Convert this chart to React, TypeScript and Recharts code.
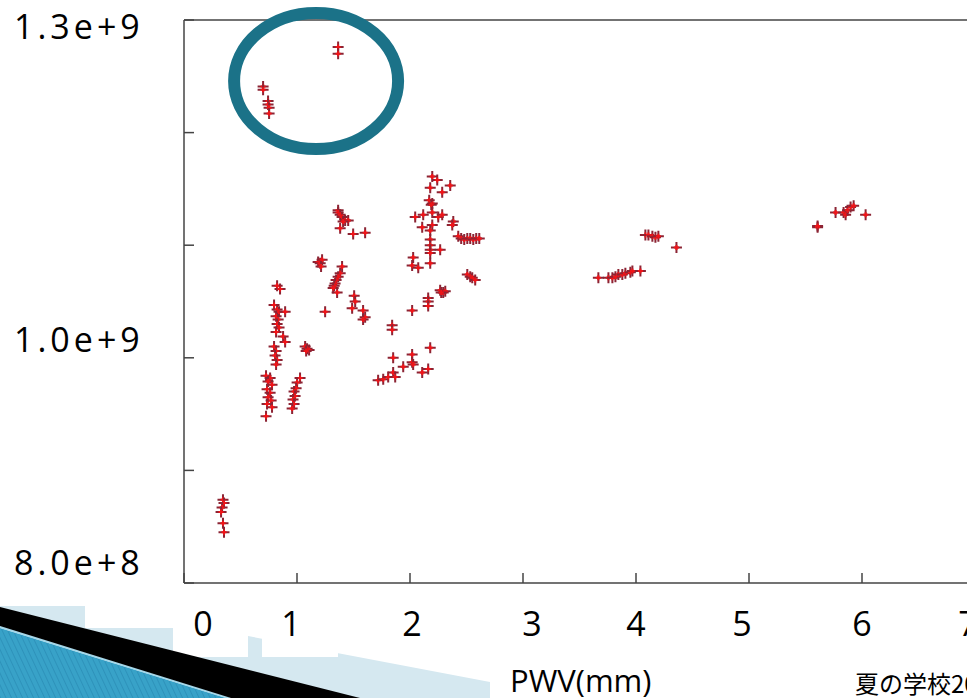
import React from 'react'
import { ScatterChart, Scatter, XAxis, YAxis, ReferenceDot } from 'recharts'

// PWV (mm) against counts (in units of 1e9), one array per group of nights
const groupLowPwv: [number, number][] = [
  [0.345, 0.874], [0.354, 0.871], [0.337, 0.867], [0.328, 0.863], [0.345, 0.853], [0.354, 0.845],
]

const groupOutliers: [number, number][] = [
  [0.7, 1.241], [0.7, 1.238], [0.744, 1.228], [0.744, 1.225], [0.753, 1.222], [0.753, 1.217],
  [1.364, 1.276], [1.364, 1.27],
]

const groupNear1: [number, number][] = [
  [0.824, 1.064], [0.85, 1.061], [0.797, 1.047], [0.824, 1.043], [0.841, 1.041], [0.815, 1.037],
  [0.833, 1.034], [0.824, 1.03], [0.841, 1.027], [0.815, 1.023], [0.895, 1.041], [0.877, 1.019],
  [0.895, 1.014], [0.797, 1.01], [0.815, 1.006], [0.806, 1.002], [0.824, 0.998], [0.815, 0.994],
  [0.726, 0.984], [0.762, 0.982], [0.744, 0.979], [0.779, 0.976], [0.735, 0.972], [0.762, 0.969],
  [0.744, 0.965], [0.771, 0.962], [0.735, 0.959], [0.779, 0.956], [0.726, 0.948],
  [1.027, 0.982], [1.001, 0.978], [0.992, 0.973], [0.974, 0.97], [0.983, 0.966], [0.965, 0.963],
  [0.974, 0.959], [0.957, 0.955],
  [1.072, 1.01], [1.089, 1.008], [1.107, 1.007], [1.081, 1.006],
]

const groupNear15: [number, number][] = [
  [1.364, 1.131], [1.364, 1.129], [1.382, 1.127], [1.399, 1.125], [1.426, 1.122], [1.453, 1.122],
  [1.408, 1.121], [1.382, 1.115], [1.497, 1.11], [1.603, 1.111],
  [1.187, 1.085], [1.205, 1.084], [1.222, 1.087], [1.213, 1.081], [1.399, 1.081], [1.382, 1.075],
  [1.364, 1.072], [1.346, 1.069], [1.337, 1.066], [1.329, 1.064], [1.32, 1.062], [1.355, 1.058],
  [1.249, 1.041], [1.506, 1.055], [1.515, 1.05], [1.488, 1.044], [1.585, 1.042], [1.603, 1.036],
  [1.585, 1.034],
]

const groupNear2: [number, number][] = [
  [2.197, 1.161], [2.241, 1.158], [2.179, 1.151], [2.356, 1.153], [2.285, 1.147], [2.17, 1.14],
  [2.197, 1.137], [2.188, 1.136], [2.046, 1.125], [2.117, 1.127], [2.197, 1.129], [2.25, 1.125],
  [2.285, 1.127], [2.108, 1.116], [2.197, 1.118], [2.383, 1.121], [2.374, 1.118],
  [2.179, 1.113], [2.179, 1.105], [2.179, 1.1], [2.179, 1.096], [2.179, 1.093], [2.179, 1.084],
  [2.267, 1.096], [2.028, 1.089], [2.019, 1.082], [2.073, 1.08],
  [2.427, 1.108], [2.453, 1.106], [2.48, 1.105], [2.507, 1.106], [2.533, 1.106], [2.56, 1.105],
  [2.586, 1.106], [2.613, 1.106],
  [2.507, 1.074], [2.533, 1.072], [2.551, 1.071], [2.577, 1.069],
  [2.267, 1.06], [2.294, 1.058], [2.312, 1.059], [2.276, 1.058],
  [2.161, 1.053], [2.161, 1.05], [2.161, 1.046], [2.019, 1.042], [1.842, 1.029], [1.842, 1.025],
  [2.179, 1.009], [1.851, 1.0], [2.019, 1.003], [2.019, 0.996], [1.94, 0.992], [2.028, 0.994],
  [2.161, 0.99], [2.108, 0.987], [1.718, 0.98], [1.763, 0.981], [1.807, 0.983], [1.851, 0.987],
  [1.869, 0.983],
]

const groupNear4: [number, number][] = [
  [3.667, 1.071], [3.756, 1.071], [3.791, 1.071], [3.818, 1.072], [3.844, 1.074], [3.879, 1.074],
  [3.906, 1.075], [3.95, 1.076], [3.968, 1.077], [4.039, 1.077],
  [4.083, 1.109], [4.11, 1.109], [4.145, 1.108], [4.172, 1.107], [4.198, 1.108], [4.358, 1.098],
]

const groupNear6: [number, number][] = [
  [5.607, 1.116], [5.607, 1.117], [5.766, 1.129], [5.837, 1.129], [5.855, 1.127], [5.872, 1.131],
  [5.899, 1.134], [5.926, 1.135], [6.032, 1.127],
]

const xTicks = [0, 1, 2, 3, 4, 5, 6, 7]
const yTicks = [0.8, 0.9, 1.0, 1.1, 1.2, 1.3]
const yTickLabels = ['8.0e+8', '', '1.0e+9', '', '', '1.3e+9']

// highlighted region around the two high outlier groups
const highlight = { pwv: 1.169, value: 1.2458 }

const points = [
  ...groupLowPwv,
  ...groupOutliers,
  ...groupNear1,
  ...groupNear15,
  ...groupNear2,
  ...groupNear4,
  ...groupNear6,
].map(([pwv, value]) => ({ pwv, value }))

const FRAME = '#444'
const TICK_LEN = 10
const labelFont = '"Open Sans", "Noto Sans", sans-serif'

// hand placed text boxes on the slide sit a little off the tick marks
const xLabelNudge: Record<number, number> = { 0: 19, 1: -6, 2: 2, 3: 9, 5: -7, 7: -7 }
const yLabelDy = [-8, 0, -6, 0, 0, 19]

const Cross = (props: any) => {
  const { cx, cy } = props
  if (cx == null || cy == null) return null
  return (
    <g>
      <path d={`M${cx - 5.5},${cy}H${cx + 5.5}M${cx},${cy - 5.5}V${cy + 5.5}`} stroke="#8c2434" strokeWidth={2} />
      <path d={`M${cx - 2.5},${cy}H${cx + 2.5}M${cx},${cy - 2.5}V${cy + 2.5}`} stroke="#f01418" strokeWidth={2} />
    </g>
  )
}

const BottomTick = (props: any) => {
  const { x, y, payload } = props
  const v = payload.value
  return (
    <g>
      <line x1={x} x2={x} y1={y} y2={y - TICK_LEN} stroke={FRAME} strokeWidth={1.5} />
      <text x={x + (xLabelNudge[v] ?? 0)} y={y + 53} textAnchor="middle" fontFamily={labelFont} fontSize={34} fill="#000">
        {v}
      </text>
    </g>
  )
}

const TopTick = (props: any) => {
  const { x, y } = props
  return <line x1={x} x2={x} y1={y} y2={y + TICK_LEN} stroke={FRAME} strokeWidth={1.5} />
}

const LeftTick = (props: any) => {
  const { x, y, index } = props
  return (
    <g>
      <line x1={x} x2={x + TICK_LEN} y1={y} y2={y} stroke={FRAME} strokeWidth={1.5} />
      {yTickLabels[index] && (
        <text x={x - 170} y={y + yLabelDy[index]} textAnchor="start" fontFamily={labelFont} fontSize={34} letterSpacing={4} fill="#000">
          {yTickLabels[index]}
        </text>
      )}
    </g>
  )
}

const RightTick = (props: any) => {
  const { x, y } = props
  return <line x1={x} x2={x - TICK_LEN} y1={y} y2={y} stroke={FRAME} strokeWidth={1.5} />
}

const Ellipse = (props: any) => (
  <ellipse cx={props.cx} cy={props.cy} rx={82} ry={68} fill="none" stroke="#1b7288" strokeWidth={12} />
)

// slide template shapes in the lower left corner
const SlideDecor = () => (
  <svg width={967} height={698} style={{ position: 'absolute', left: 0, top: 0 }}>
    <defs>
      <pattern id="hatch" width={5} height={5} patternUnits="userSpaceOnUse" patternTransform="rotate(-25)">
        <rect width={5} height={5} fill="#38a2c8" />
        <line x1={0} y1={0} x2={0} y2={5} stroke="#2a8db5" strokeWidth={1.5} />
      </pattern>
    </defs>
    <polygon points="0,589 490,682 490,698 0,698" fill="#d5e8f0" />
    <rect x={0} y={560} width={85} height={46} fill="#fff" />
    <rect x={85} y={600} width={88} height={28} fill="#fff" />
    <rect x={173} y={600} width={75} height={57} fill="#fff" />
    <rect x={262} y={600} width={76} height={57} fill="#fff" />
    <polygon points="0,628 226,698 0,698" fill="url(#hatch)" />
    <line x1={0} y1={627} x2={229} y2={698} stroke="#a5d8ea" strokeWidth={2} />
    <polygon points="0,607 360,698 231,698 0,626" fill="#000" />
    <text x={855} y={693} fontFamily='"Noto Sans CJK JP", sans-serif' fontSize={24} fill="#000">
      夏の学校2012
    </text>
  </svg>
)

export default function App() {
  return (
    <div style={{ position: 'fixed', left: 0, top: 0, width: 967, height: 698, overflow: 'hidden', background: '#fff' }}>
      <SlideDecor />
      <div style={{ position: 'absolute', left: 0, top: 0 }}>
        <ScatterChart width={1000} height={698} margin={{ top: 19, right: 24, bottom: 0, left: 0 }}>
          <XAxis
            xAxisId="bottom"
            dataKey="pwv"
            type="number"
            domain={[0, 7]}
            ticks={xTicks}
            interval={0}
            height={115}
            tickSize={0}
            tickMargin={0}
            tickLine={false}
            axisLine={{ stroke: FRAME, strokeWidth: 1.5 }}
            tick={<BottomTick />}
            label={{
              content: (p: any) => (
                <text x={p.viewBox.x + 326} y={p.viewBox.y + 109} fontFamily={labelFont} fontSize={31} fill="#000">
                  PWV(mm)
                </text>
              ),
            }}
          />
          <XAxis
            xAxisId="top"
            orientation="top"
            type="number"
            domain={[0, 7]}
            ticks={xTicks}
            interval={0}
            height={1}
            tickSize={0}
            tickMargin={0}
            tickLine={false}
            axisLine={{ stroke: FRAME, strokeWidth: 1.5 }}
            tick={<TopTick />}
          />
          <YAxis
            yAxisId="left"
            dataKey="value"
            type="number"
            domain={[0.8, 1.3]}
            ticks={yTicks}
            interval={0}
            width={184}
            tickSize={0}
            tickMargin={0}
            tickLine={false}
            axisLine={{ stroke: FRAME, strokeWidth: 1.5 }}
            tick={<LeftTick />}
          />
          <YAxis
            yAxisId="right"
            orientation="right"
            type="number"
            domain={[0.8, 1.3]}
            ticks={yTicks}
            interval={0}
            width={1}
            tickSize={0}
            tickMargin={0}
            tickLine={false}
            axisLine={{ stroke: FRAME, strokeWidth: 1.5 }}
            tick={<RightTick />}
          />
          <Scatter xAxisId="bottom" yAxisId="left" data={points} shape={<Cross />} isAnimationActive={false} />
          <ReferenceDot
            xAxisId="bottom"
            yAxisId="left"
            x={highlight.pwv}
            y={highlight.value}
            ifOverflow="visible"
            shape={<Ellipse />}
          />
        </ScatterChart>
      </div>
    </div>
  )
}
